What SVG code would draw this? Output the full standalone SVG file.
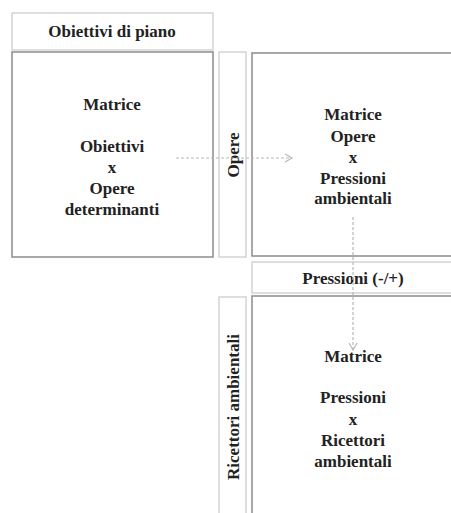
<svg xmlns="http://www.w3.org/2000/svg" width="451" height="513" viewBox="0 0 451 513">
<defs>
<style>
.t{font-family:"Liberation Serif","Times New Roman",serif;font-weight:bold;font-size:17px;fill:#222;text-anchor:middle}
.mat{fill:#fff;stroke:#8c8c8c;stroke-width:1.5}
.hdr{fill:#fff;stroke:#d4d4d4;stroke-width:1.5}
.con{fill:none;stroke:#b8b8b8;stroke-width:1.2;stroke-dasharray:3 2}
</style>
<marker id="ah" markerWidth="10" markerHeight="10" refX="8" refY="5" orient="auto" markerUnits="userSpaceOnUse">
<path d="M1,1 L8,5 L1,9" fill="none" stroke="#b8b8b8" stroke-width="1.2"/>
</marker>
</defs>
<rect width="451" height="513" fill="#fff"/>
<g id="obiettivi-di-piano">
<rect class="hdr" x="12" y="13" width="201" height="37"/>
<text class="t" x="112" y="37">Obiettivi di piano</text>
</g>
<g id="matrice-obiettivi-opere">
<rect class="mat" x="12" y="52" width="201" height="205"/>
<text class="t" x="112" y="110">Matrice</text>
<text class="t" x="112" y="152">Obiettivi</text>
<text class="t" x="112" y="173">x</text>
<text class="t" x="112" y="194">Opere</text>
<text class="t" x="112" y="215">determinanti</text>
</g>
<g id="opere">
<rect class="hdr" x="219" y="52" width="27" height="205"/>
<text class="t" transform="translate(233,155) rotate(-90)" y="6">Opere</text>
</g>
<g id="matrice-opere-pressioni">
<rect class="mat" x="252" y="53" width="210" height="203"/>
<text class="t" x="353" y="120">Matrice</text>
<text class="t" x="353" y="142">Opere</text>
<text class="t" x="353" y="163">x</text>
<text class="t" x="353" y="184">Pressioni</text>
<text class="t" x="353" y="204">ambientali</text>
</g>
<g id="pressioni">
<rect class="hdr" x="252" y="262" width="210" height="31"/>
<text class="t" x="353" y="284">Pressioni (-/+)</text>
</g>
<g id="ricettori-ambientali">
<rect class="hdr" x="219" y="297" width="27" height="225"/>
<text class="t" transform="translate(233,407) rotate(-90)" y="6">Ricettori ambientali</text>
</g>
<g id="matrice-pressioni-ricettori">
<rect class="mat" x="252" y="296" width="210" height="225"/>
<text class="t" x="353" y="362">Matrice</text>
<text class="t" x="353" y="403">Pressioni</text>
<text class="t" x="353" y="425">x</text>
<text class="t" x="353" y="446">Ricettori</text>
<text class="t" x="353" y="467">ambientali</text>
</g>
<g id="connectors">
<path class="con" d="M176,158 L292,158" marker-end="url(#ah)"/>
<path class="con" d="M353,217 L353,350" marker-end="url(#ah)"/>
</g>
</svg>
